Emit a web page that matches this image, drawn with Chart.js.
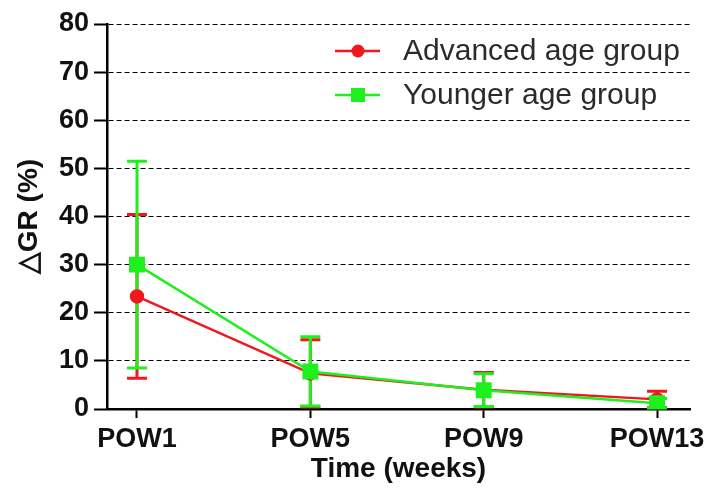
<!DOCTYPE html>
<html lang="en">
  <head>
    <meta charset="UTF-8" />
    <title>GR change</title>
    <script src="https://cdn.jsdelivr.net/npm/chart.js@4.4.0/dist/chart.umd.min.js"></script>
    <style>
      body { margin: 0; background: #fff; }
    </style>
  </head>
  <body>
	<canvas id="myChart" width="713" height="492"></canvas>
	<script>
	    // values
	    const weeks = ['POW1', 'POW5', 'POW9', 'POW13'];
	    const advancedMean = [23.4, 7.4, 4.0, 2.0];
	    const advancedSD = [17.0, 7.0, 3.6, 1.7];
	    const youngerMean = [30.0, 7.8, 3.9, 1.2];
	    const youngerSD = [21.5, 7.2, 3.4, 1.0];
	    const yTicks = [0, 10, 20, 30, 40, 50, 60, 70, 80];

	    const RED = 'rgb(240,24,30)';
	    const GREEN = 'rgb(30,240,30)';
	    const FONT = 'Liberation Sans, Arial, sans-serif';

	    const toPoints = (arr) => arr.map((y, i) => ({x: i, y: y}));

	    // mean +/- SD bars with caps
	    const errorBars = {
		id: 'errorBars',
		beforeDatasetsDraw(chart) {
		    const ctx = chart.ctx;
		    const xs = chart.scales.x, ys = chart.scales.y;
		    chart.data.datasets.forEach((ds) => {
			ctx.save();
			ctx.strokeStyle = ds.borderColor;
			ctx.lineWidth = 3;
			ds.sd.forEach((sd, i) => {
			    const x = xs.getPixelForValue(i);
			    const top = ys.getPixelForValue(ds.data[i].y + sd);
			    const bot = ys.getPixelForValue(Math.max(0, ds.data[i].y - sd));
			    ctx.beginPath();
			    ctx.moveTo(x, top); ctx.lineTo(x, bot);
			    ctx.moveTo(x - 10, top); ctx.lineTo(x + 10, top);
			    ctx.moveTo(x - 10, bot); ctx.lineTo(x + 10, bot);
			    ctx.stroke();
			});
			ctx.restore();
		    });
		}
	    };

	    // legend drawn inside the plot, top right
	    const insideLegend = {
		id: 'insideLegend',
		afterDraw(chart) {
		    const ctx = chart.ctx;
		    chart.data.datasets.forEach((ds, i) => {
			const y = 51 + i * 44;
			ctx.save();
			ctx.strokeStyle = ds.borderColor;
			ctx.fillStyle = ds.borderColor;
			ctx.lineWidth = 2.5;
			ctx.beginPath();
			ctx.moveTo(335, y); ctx.lineTo(380, y);
			ctx.stroke();
			if (ds.pointStyle === 'rect') {
			    ctx.fillRect(351, y - 7, 14, 14);
			} else {
			    ctx.beginPath();
			    ctx.arc(358, y, 6.5, 0, Math.PI * 2);
			    ctx.fill();
			}
			ctx.fillStyle = '#2b2b2b';
			ctx.font = '30px ' + FONT;
			ctx.textBaseline = 'middle';
			ctx.fillText(ds.label, 403, y + 1);
			ctx.restore();
		    });
		}
	    };

	    const ctx = document.getElementById('myChart').getContext('2d');
	    const myChart = new Chart(ctx, {
		type: 'line',
		data: {
		    datasets: [{
			label: 'Advanced age group',
			data: toPoints(advancedMean),
			sd: advancedSD,
			borderColor: RED,
			backgroundColor: RED,
			borderWidth: 2.5,
			pointStyle: 'circle',
			pointRadius: 6,
			tension: 0,
			order: 1
		    }, {
			label: 'Younger age group',
			data: toPoints(youngerMean),
			sd: youngerSD,
			borderColor: GREEN,
			backgroundColor: GREEN,
			borderWidth: 2.5,
			pointStyle: 'rect',
			pointRadius: 9.5,
			tension: 0,
			order: 0
		    }]
		},
		options: {
		    responsive: false,
		    animation: false,
		    devicePixelRatio: 1,
		    layout: { padding: { top: 24, right: 23, left: 0, bottom: 0 } },
		    plugins: { legend: { display: false }, tooltip: { enabled: false } },
		    scales: {
			x: {
			    type: 'linear',
			    min: -0.173,
			    max: 3.19,
			    afterBuildTicks: (s) => { s.ticks = weeks.map((w, i) => ({value: i})); },
			    afterFit: (s) => { s.height = 83; },
			    ticks: {
				callback: (v) => weeks[v],
				color: '#111',
				font: { family: FONT, size: 27, weight: 'bold' },
				padding: 5,
				maxRotation: 0
			    },
			    grid: { drawOnChartArea: false, drawTicks: true, tickLength: 9, tickColor: '#000', tickWidth: 2 },
			    border: { color: '#000', width: 2.5 },
			    title: {
				display: true,
				text: 'Time (weeks)',
				color: '#111',
				font: { family: FONT, size: 28, weight: 'bold' },
				padding: { top: 0, bottom: 6 }
			    }
			},
			y: {
			    min: 0,
			    max: 80,
			    afterBuildTicks: (s) => { s.ticks = yTicks.map((v) => ({value: v})); },
			    afterFit: (s) => { s.width = 107; },
			    ticks: {
				color: '#111',
				font: { family: FONT, size: 27, weight: 'bold' },
				padding: 5
			    },
			    grid: { color: '#000', lineWidth: 1, drawTicks: true, tickLength: 13, tickColor: '#000', tickWidth: 2 },
			    border: { color: '#000', width: 2.5, dash: [5, 3] },
			    title: {
				display: true,
				text: '\u25B3GR (%)',
				color: '#111',
				font: { family: FONT, size: 28, weight: 'bold' },
				padding: { top: 12, bottom: 0 }
			    }
			}
		    }
		},
		plugins: [errorBars, insideLegend]
	    });
	</script>
    </body>
</html>
